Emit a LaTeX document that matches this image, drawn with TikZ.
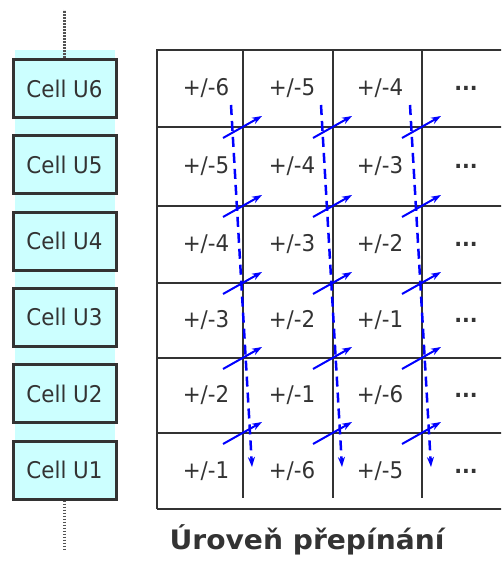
\documentclass[tikz,border=0pt]{standalone}
\usepackage{fontspec}
\setmainfont{DejaVu Sans}[FakeStretch=0.93]
\newfontfamily\titlefont{DejaVu Sans}[FakeStretch=1.05]
\usetikzlibrary{arrows.meta}
\definecolor{cellcyan}{HTML}{CCFFFF}
\definecolor{ink}{HTML}{333333}
\definecolor{arrowblue}{HTML}{0000FF}
\tikzset{
  cellbox/.style={draw=ink, line width=3pt, fill=cellcyan, minimum width=103pt, minimum height=58pt, inner sep=0pt, text=ink, font=\fontsize{23}{26}\selectfont},
  gridtext/.style={text=ink, inner sep=0pt, font=\fontsize{23}{26}\selectfont},
  dotstext/.style={text=ink, inner sep=0pt, font=\bfseries\fontsize{22}{26}\selectfont},
  gridline/.style={draw=ink, line width=2.5pt},
  swaparrow/.style={draw=arrowblue, line width=2pt, -{Stealth[length=10pt,width=7pt]}},
  pathdash/.style={draw=arrowblue, line width=2.5pt, dash pattern=on 10pt off 6pt, -{Stealth[length=10pt,width=7pt]}},
  dotline/.style={draw=ink!85, line width=2.2pt, dash pattern=on 1.6pt off 1.4pt},
  titletext/.style={text=ink, anchor=base, font=\titlefont\bfseries\fontsize{26.8}{30}\selectfont}
}
\begin{document}
\begin{tikzpicture}[x=1pt,y=-1pt]
\useasboundingbox (0,0) rectangle (501,564);
\clip (0,0) rectangle (501,564);
% cyan column
\fill[cellcyan] (15,50) rectangle (115,499);
% cell boxes
\node[cellbox] (u6) at (64.5,88.5) {Cell U6};
\node[cellbox] (u5) at (64.5,164.8) {Cell U5};
\node[cellbox] (u4) at (64.5,241.1) {Cell U4};
\node[cellbox] (u3) at (64.5,317.4) {Cell U3};
\node[cellbox] (u2) at (64.5,393.7) {Cell U2};
\node[cellbox] (u1) at (64.5,470) {Cell U1};
\coordinate (topdot) at (64.5,10);
\coordinate (botdot) at (64.5,549);
\draw[dotline] (u6.north) -- (topdot);
\draw[dotline] (u1.south) -- (botdot);
% grid
\draw[gridline] (157,509) -- (157,50) -- (510,50);
\foreach \y in {127,206,283,358,433} {\draw[gridline] (157,\y) -- (510,\y);}
\draw[gridline] (157,509) -- (510,509);
\foreach \x in {243,333,422} {\draw[gridline] (\x,50) -- (\x,498);}
% cell texts
\foreach \r/\y/\a/\b/\c in {1/88.5/6/5/4, 2/166.5/5/4/3, 3/244.5/4/3/2, 4/320.5/3/2/1, 5/395.5/2/1/6, 6/471/1/6/5} {
  \node[gridtext] (t\r a) at (206,\y) {+/-\a};
  \node[gridtext] (t\r b) at (292,\y) {+/-\b};
  \node[gridtext] (t\r c) at (380,\y) {+/-\c};
  \node[dotstext] (t\r d) at (466,\y) {...};
}
% swap arrows at intersections
\foreach \x in {243,333,422} {
  \foreach \y in {127,206,283,358,433} {
    \coordinate (s\x-\y) at (\x-20,\y+11);
    \coordinate (e\x-\y) at (\x+19,\y-11);
    \draw[swaparrow] (s\x-\y) -- (e\x-\y);
  }
  \coordinate (ds\x) at (\x-12,105);
  \coordinate (de\x) at (\x+9,467);
  \draw[pathdash] (ds\x) -- (de\x);
}
% title
\node[titletext] (title) at (307,549) {Úroveň přepínání};
\end{tikzpicture}
\end{document}
